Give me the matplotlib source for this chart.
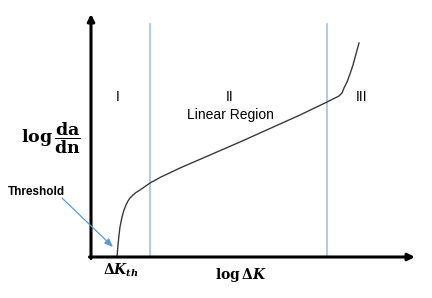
import matplotlib
matplotlib.use("Agg")
import matplotlib.pyplot as plt

# Curve (schematic fatigue crack growth), offsets from axis origin
curve_x = [26, 27, 28, 29, 31, 33, 35, 37, 39, 42, 45, 49, 54, 59, 70, 89, 149, 209, 236, 248, 251, 253, 256, 259, 262, 265, 268]
curve_y = [0, 12, 22, 30, 40, 47, 52, 56, 59, 62, 64.5, 67, 70.5, 74, 80, 89, 115, 142, 155, 161, 164, 169, 175, 183, 192, 203, 214]
region_bounds = [59, 236]
region_labels = ["I", "II", "III"]
region_label_x = [27, 139, 271]

fig = plt.figure(figsize=(4.32, 2.98), dpi=100)
ax = fig.add_axes([0, 0, 1, 1])
ax.set_xlim(-91, 341)
ax.set_ylim(-41, 257)
ax.axis("off")

# axes with arrows
ax.annotate("", xy=(0, 243), xytext=(0, -1.5),
            arrowprops=dict(arrowstyle="-|>,head_length=0.4,head_width=0.2", lw=2.2, color="black",
                            shrinkA=0, shrinkB=0))
ax.annotate("", xy=(324, 0), xytext=(-1.5, 0),
            arrowprops=dict(arrowstyle="-|>,head_length=0.4,head_width=0.2", lw=2.2, color="black",
                            shrinkA=0, shrinkB=0))

for b in region_bounds:
    ax.plot([b, b], [0, 233], color="#9DC3E6", lw=1.2, zorder=1)

ax.plot(curve_x, curve_y, color="#3a3a3a", lw=1.0, zorder=2)

for lab, x in zip(region_labels, region_label_x):
    ax.text(x, 160, lab, ha="center", va="center", fontsize=10, family="Liberation Sans")
ax.text(139, 142, "Linear Region", ha="center", va="center", fontsize=10, family="Liberation Sans")

ax.text(-55, 65, "Threshold", ha="center", va="center", fontsize=8.5, fontweight="bold",
        family="Liberation Sans")
ax.annotate("", xy=(22, 10), xytext=(-29, 59),
            arrowprops=dict(arrowstyle="-|>,head_length=0.5,head_width=0.2", lw=0.9, color="#5B9BD5",
                            shrinkA=0, shrinkB=0))

plt.rcParams["mathtext.fontset"] = "dejavuserif"
ax.text(30, -13, r"$\mathbf{\Delta}\boldsymbol{K}_{\boldsymbol{th}}$", ha="center", va="center", fontsize=10)
ax.text(150, -18, r"$\mathbf{log\,\Delta}\boldsymbol{K}$", ha="center", va="center", fontsize=10)
ax.text(-40, 119, r"$\mathbf{log}\,\dfrac{\mathbf{da}}{\mathbf{dn}}$", ha="center", va="center", fontsize=12.5)

fig.savefig("out.png", dpi=100)
